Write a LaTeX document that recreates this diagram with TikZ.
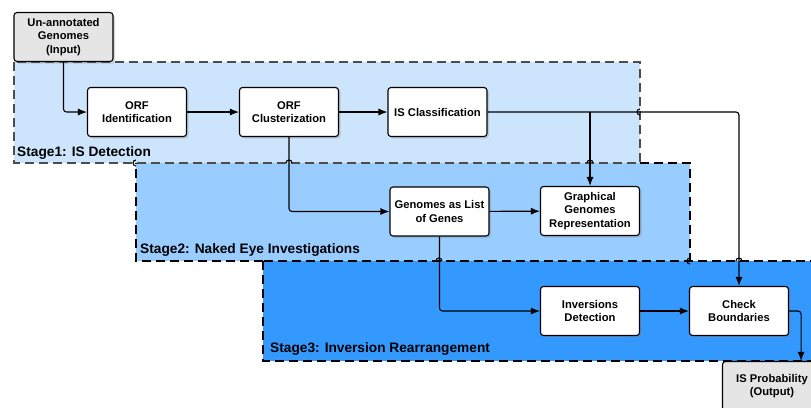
\documentclass[tikz,border=0pt]{standalone}
\usepackage{fontspec}
\setmainfont{Liberation Sans}
\usetikzlibrary{arrows.meta,shadows}
\definecolor{stageone}{HTML}{CCE5FC}
\definecolor{stagetwo}{HTML}{99CCFF}
\definecolor{stagethree}{HTML}{3399FF}
\definecolor{iogray}{HTML}{E5E5E5}

\begin{document}
\begin{tikzpicture}[x=1pt, y=-1pt,
    box/.style={draw=black, line width=1.1pt, fill=white, rounded corners=3pt,
        minimum width=99pt, minimum height=49pt, inner sep=2pt, align=center,
        font=\fontsize{11.2}{13.5}\selectfont\bfseries,
        drop shadow={shadow xshift=2pt, shadow yshift=-2pt, opacity=0.3}},
    iobox/.style={box, fill=iogray},
    stageline/.style={line width=1.4pt, dash pattern=on 9pt off 5pt},
    stagelabel/.style={anchor=west, inner sep=0pt, font=\fontsize{13.7}{16}\selectfont\bfseries},
    arr/.style={-{Latex[length=9pt,width=7pt]}, line width=1.1pt, rounded corners=3pt},
    hop/.style={line width=1.1pt}]
    \useasboundingbox (0,0) rectangle (811,407);
    \clip (0,0) rectangle (811,407);

    % Stages
    \fill[stageone] (14,62) rectangle (640,163);
    \fill[stagetwo] (136,163) rectangle (690,261);
    \fill[stagethree] (263,261) rectangle (840,361);
    \draw[stageline, draw=black!70] (14,62) rectangle (640,163);
    \draw[stageline] (640,163) -- (690,163) -- (690,261);
    \draw[stageline] (263,261) -- (136,261) -- (136,163);
    \draw[stageline] (263,261) rectangle (840,361);
    \node[stagelabel] (lone) at (17,153) {Stage1: IS Detection};
    \node[stagelabel] (ltwo) at (140,250) {Stage2: Naked Eye Investigations};
    \node[stagelabel] (lthree) at (270,349) {Stage3: Inversion Rearrangement};

    % Boxes
    \node[iobox] (input) at (63.5,37) {Un-annotated\\Genomes\\(Input)};
    \node[box] (orfid) at (137,112) {ORF\\Identification};
    \node[box] (orfcl) at (289,112) {ORF\\Clusterization};
    \node[box] (iscl) at (437.5,112) {IS Classification};
    \node[box] (genes) at (439.5,211.5) {Genomes as List\\of Genes};
    \node[box] (graph) at (590,211) {Graphical\\Genomes\\Representation};
    \node[box] (invdet) at (590,311) {Inversions\\Detection};
    \node[box] (check) at (739,311) {Check\\Boundaries};
    \node[iobox] (output) at (772,386) {IS Probability\\(Output)};

    % Connectors
    \draw[arr] (input.south) |- (orfid.west);
    \draw[arr] (orfid) -- (orfcl);
    \draw[arr] (orfcl) -- (iscl);
    \draw[arr] (iscl.east) -| (check.north);
    \draw[arr] (iscl.east -| graph.north) -- (graph.north);
    \draw[arr] (orfcl.south) |- (genes.west);
    \draw[arr] (genes) -- (graph);
    \draw[arr] (genes.south) |- (invdet.west);
    \draw[arr] (invdet) -- (check);
    \draw[arr] (check.east) -| ([xshift=-21pt]output.north east);

    % Line hops
    \draw[hop] (286,163) arc (180:360:3);
    \draw[hop] (587,163) arc (180:360:3);
    \draw[hop] (436,261) arc (180:360:3);
    \draw[hop] (736,261) arc (180:360:3);
    \draw[hop] (640,109) arc (270:90:3);
    \draw[hop] (136,160) arc (270:90:3);
    \draw[hop] (690,258) arc (270:90:3);
\end{tikzpicture}
\end{document}
